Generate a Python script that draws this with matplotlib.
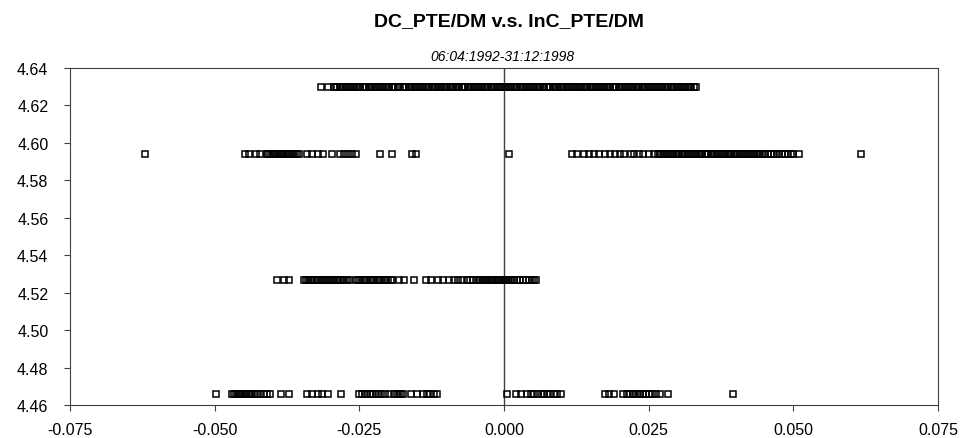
import numpy as np
import matplotlib
matplotlib.use('Agg')
import matplotlib.pyplot as plt

# x values, in units of 1e-3
row1_y = 4.630
row1_x = [-31.6, -30.4, -29.4, -29.1, -28.8, -28.4, -28.1, -27.8, -27.4, -27.1, -26.8, -26.4,
          -26.1, -25.8, -25.4, -25.1, -24.8, -24.4, -24.1, -23.8, -23.4, -23.1, -22.8, -22.4,
          -22.1, -21.8, -21.4, -21.1, -20.8, -20.4, -20.1, -19.8, -19.4, -19.1, -18.8, -18.4,
          -18.1, -17.5, -17.2, -16.9, -16.5, -16.2, -15.9, -15.5, -15.2, -14.9, -14.5, -14.2,
          -13.9, -13.5, -13.2, -12.9, -12.5, -12.2, -11.9, -11.5, -11.2, -10.9, -10.5, -10.2,
          -9.9, -9.3, -9.0, -8.7, -8.3, -8.0, -7.7, -7.3, -7.0, -6.7, -6.3, -6.0, -5.7, -5.3,
          -5.0, -4.7, -4.3, -4.0, -3.7, -3.3, -3.0, -2.7, -2.3, -2.0, -1.7, -1.3, -1.0, -0.7,
          -0.3, 0.0, 0.3, 0.7, 1.0, 1.3, 1.7, 2.0, 2.3, 2.7, 3.0, 3.3, 3.7, 4.0, 4.3, 4.7, 5.0,
          5.3, 5.7, 6.0, 6.3, 6.7, 7.0, 7.4, 7.7, 8.0, 8.4, 8.7, 9.0, 9.4, 9.8, 10.1, 10.4,
          10.8, 11.1, 11.4, 11.8, 12.1, 12.4, 12.8, 13.1, 13.4, 13.8, 14.1, 14.4, 14.8, 15.1,
          15.4, 15.8, 16.1, 16.4, 16.8, 17.1, 17.4, 17.8, 18.1, 18.4, 18.8, 19.1, 19.4, 19.8,
          20.1, 20.4, 20.8, 21.1, 21.4, 21.8, 22.1, 22.4, 22.8, 23.1, 23.4, 23.8, 24.1, 24.4,
          24.8, 25.1, 25.4, 25.8, 26.1, 26.4, 26.8, 27.1, 27.4, 27.8, 28.1, 28.4, 28.8, 29.1,
          29.4, 29.8, 30.1, 30.4, 30.8, 31.1, 31.4, 31.8, 32.1, 32.4, 32.8, 33.2]

row2_y = 4.594
row2_x = [-62.1, -44.8, -44.0, -42.9, -42.1, -41.0, -40.7, -40.4, -40.1, -39.8, -39.5, -39.2,
          -38.9, -38.6, -38.3, -38.0, -37.7, -37.4, -37.1, -36.8, -36.5, -36.1, -35.8, -35.4,
          -34.1, -33.1, -32.2, -31.2, -29.8, -28.4, -27.6, -26.9, -26.2, -25.5, -21.4, -19.3,
          -15.9, -15.2, 0.9,
          11.7, 12.6, 13.8, 14.7, 15.5, 16.4, 17.4, 18.3, 19.1, 20.0, 20.7, 21.9, 22.4, 23.3,
          24.1, 25.0, 25.9, 26.7, 27.0, 27.3, 27.7, 28.0, 28.3, 28.7, 29.0, 29.3, 29.7, 30.0,
          30.3, 30.7, 31.0, 31.3, 31.7, 32.0, 32.3, 32.7, 33.0, 33.3, 33.7, 34.0, 34.3, 34.7,
          35.0, 35.3, 35.7, 36.0, 36.3, 36.7, 37.0, 37.3, 37.7, 38.0, 38.3, 38.7, 39.0, 39.3,
          39.7, 40.0, 40.3, 40.7, 41.0, 41.3, 41.7, 42.0, 42.3, 42.7, 43.0, 43.3, 43.7, 44.0,
          44.3, 44.7, 45.1, 45.6, 46.1, 46.6, 47.1, 47.6, 48.1, 48.6, 49.1, 49.6, 50.0, 50.9,
          61.7]

row3_y = 4.527
row3_x = [-39.3, -38.1, -37.1,
          -34.5, -34.2, -33.8, -33.5, -33.1, -32.8, -32.4, -32.1, -31.7, -31.4, -31.0, -30.7,
          -30.3, -30.0, -29.6, -29.3, -28.9, -28.6, -28.2, -27.9, -27.5, -27.2, -26.8, -25.6,
          -25.2, -24.8, -24.4, -24.0, -23.6, -23.2, -22.8, -22.4, -22.0, -21.6, -21.2, -20.8,
          -20.4, -20.0, -19.6, -19.3,
          -18.1, -17.2, -15.5, -13.4, -12.6, -11.4, -10.5, -9.5, -8.6, -7.9, -7.2, -6.4, -5.9,
          -5.3, -4.7, -4.4, -4.1, -3.8, -3.5, -3.2, -2.9, -2.6, -2.3, -2.0, -1.7, -1.4, -1.1,
          -0.8, -0.5, -0.2, 0.1, 0.4, 0.7, 1.0, 1.3, 1.8, 2.3, 2.8, 3.3, 3.8, 4.3, 4.8, 5.2,
          5.6]

row4_y = 4.466
row4_x = [-49.7, -47.0, -46.6, -46.3, -46.0, -45.7, -45.4, -45.1, -44.8, -44.5, -44.2, -43.9,
          -43.5, -43.1, -42.6, -42.1, -41.5, -40.9, -40.4, -38.5, -37.2, -34.0, -33.1, -32.2,
          -31.5, -30.5, -28.2, -25.0, -24.6, -24.1, -23.6, -23.2, -22.7, -22.2, -21.7, -21.2,
          -20.5, -19.8, -19.0, -18.5, -18.1, -17.8, -17.4, -16.0, -15.0, -14.0, -13.3, -12.7,
          -12.1, -11.6,
          0.5, 2.0, 3.0, 4.0, 4.6, 5.2, 5.8, 6.5, 7.0, 7.5, 8.0, 8.6, 9.2, 9.8,
          17.5, 18.2, 19.0, 20.5, 21.2, 21.8, 22.3, 22.7, 23.1, 23.5, 24.0, 24.5, 25.0, 25.5,
          26.2, 27.0, 28.3, 39.5]

x_ticks = [-0.075, -0.050, -0.025, 0.000, 0.025, 0.050, 0.075]
y_ticks = [4.46, 4.48, 4.50, 4.52, 4.54, 4.56, 4.58, 4.60, 4.62, 4.64]

plt.rcParams['font.family'] = ['Liberation Sans', 'DejaVu Sans']

fig = plt.figure(figsize=(9.63, 4.39), dpi=100)
ax = fig.add_axes([0.0727, 0.0752, 0.9013, 0.7678])

# 
# the four rows of points
for xs, yv in [(row1_x, row1_y), (row2_x, row2_y), (row3_x, row3_y), (row4_x, row4_y)]:
    xs = np.array(xs) * 1e-3
    ax.plot(xs, np.full(len(xs), yv), linestyle='none', marker='s', markersize=4.2,
            markerfacecolor='none', markeredgecolor='black', markeredgewidth=1.1)

ax.axvline(0.0, color='#404040', linewidth=1.0, zorder=1)

ax.set_xlim(-0.075, 0.075)
ax.set_ylim(4.46, 4.64)
ax.set_xticks(x_ticks)
ax.set_yticks(y_ticks)
ax.set_xticklabels(['%.3f' % v for v in x_ticks], fontsize=11.5)
ax.set_yticklabels(['%.2f' % v for v in y_ticks], fontsize=11.5)
ax.tick_params(direction='out', length=4.5, width=0.8, color='#404040')
ax.tick_params(axis='x', pad=8)
ax.tick_params(axis='y', pad=11)
for s in ax.spines.values():
    s.set_color('#404040')
    s.set_linewidth(0.8)

fig.text(0.528, 1 - 22.0/439, 'DC_PTE/DM v.s. InC_PTE/DM', ha='center', va='center',
         fontsize=14, fontweight='bold')
fig.text(0.522, 1 - 57.0/439, '06:04:1992-31:12:1998', ha='center', va='center',
         fontsize=10, fontstyle='italic')

plt.savefig('out.png', dpi=100)
